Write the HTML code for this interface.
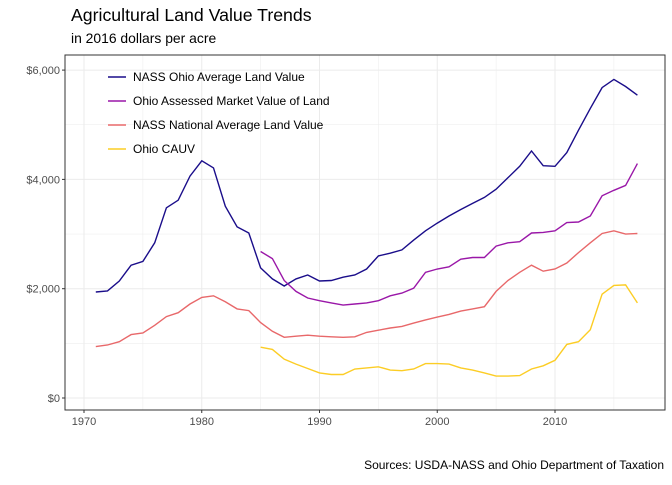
<!DOCTYPE html>
<html><head><meta charset="utf-8"><style>
body{margin:0;background:#fff;font-family:"Liberation Sans",sans-serif;}
</style></head><body>
<svg width="672" height="480" font-family="Liberation Sans, sans-serif">
<text x="71" y="21" font-size="17.7" fill="#000">Agricultural Land Value Trends</text>
<text x="71" y="43" font-size="13.9" fill="#000">in 2016 dollars per acre</text>
<g id="grid"></g>
<g id="axes"></g>
<g id="series"></g>
<rect x="65" y="55" width="600" height="355" fill="none" stroke="#333" stroke-width="1"/>
<g id="legend"></g>
<text x="664" y="469" font-size="12" text-anchor="end" fill="#000">Sources: USDA-NASS and Ohio Department of Taxation</text>
</svg>
<script>
const yearsFull=[];for(let y=1971;y<=2017;y++)yearsFull.push(y);
const yearsLate=[];for(let y=1985;y<=2017;y++)yearsLate.push(y);
const ohioAvg=[1940,1960,2140,2430,2500,2840,3480,3620,4060,4340,4210,3510,3130,3020,2380,2180,2050,2180,2250,2140,2150,2210,2250,2360,2600,2650,2710,2890,3060,3200,3330,3450,3560,3670,3820,4030,4240,4520,4250,4240,4490,4900,5300,5680,5830,5700,5540];
const ohioAssessed=[2680,2550,2150,1950,1830,1780,1740,1700,1720,1740,1780,1870,1920,2010,2300,2360,2400,2540,2570,2570,2780,2840,2860,3020,3030,3060,3210,3220,3330,3700,3800,3890,4290];
const national=[940,970,1030,1160,1190,1330,1490,1560,1720,1840,1870,1760,1630,1600,1380,1220,1110,1130,1150,1130,1120,1110,1120,1200,1240,1280,1310,1370,1430,1480,1530,1590,1630,1670,1950,2150,2300,2430,2320,2360,2470,2660,2840,3010,3060,3000,3010];
const cauv=[930,890,710,620,540,460,430,430,530,550,570,510,500,530,630,630,620,550,510,460,400,400,410,530,590,690,980,1030,1250,1900,2060,2070,1740];
const xTicks=[1970,1980,1990,2000,2010];
const yTicks=[0,2000,4000,6000];
const yTickLabels=["$0","$2,000","$4,000","$6,000"];
const seriesNames=["NASS Ohio Average Land Value","Ohio Assessed Market Value of Land","NASS National Average Land Value","Ohio CAUV"];
const colorsAdj=["#1a0d8a","#9a17a8","#e8686a","#fccd25"];
const X=y=>84+(y-1970)*11.775;
const Y=v=>398-v*0.05465;
const NS="http://www.w3.org/2000/svg";
function mk(t,a,p){const e=document.createElementNS(NS,t);for(const k in a)e.setAttribute(k,a[k]);p.appendChild(e);return e;}
const grid=document.getElementById('grid'),axes=document.getElementById('axes'),ser=document.getElementById('series'),leg=document.getElementById('legend');
for(let v=-1000;v<=7000;v+=1000){const y=Y(v);if(y<55||y>410)continue;
const l=mk('line',{x1:65,x2:665,y1:y,y2:y,stroke:'#ebebeb','stroke-width':v%2000===0?1:0.5},grid);

}
for(let yr=1965;yr<=2020;yr+=5){const x=X(yr);if(x<65||x>665)continue;
const l=mk('line',{x1:x,x2:x,y1:55,y2:410,stroke:'#ebebeb','stroke-width':yr%10===0?1:0.5},grid);

}
yTicks.forEach((v,i)=>{const y=Y(v);
mk('line',{x1:62,x2:65,y1:y,y2:y,stroke:'#333'},axes);
const t=mk('text',{x:60,y:y+4,'font-size':11,'text-anchor':'end',fill:'#4d4d4d'},axes);t.textContent=yTickLabels[i];

});
xTicks.forEach(yr=>{const x=X(yr);
mk('line',{x1:x,x2:x,y1:410,y2:413,stroke:'#333'},axes);
const t=mk('text',{x:x,y:425,'font-size':11,'text-anchor':'middle',fill:'#4d4d4d'},axes);t.textContent=yr;

});
const all=[[yearsFull,ohioAvg],[yearsLate,ohioAssessed],[yearsFull,national],[yearsLate,cauv]];
const names=['ohio-average-line','ohio-assessed-line','national-average-line','ohio-cauv-line'];
all.forEach(([xs,vs],i)=>{const d=vs.map((v,j)=>(j?'L':'M')+X(xs[j]).toFixed(1)+','+Y(v).toFixed(1)).join('');
const p=mk('path',{d:d,fill:'none',stroke:colorsAdj[i],'stroke-width':1.4},ser);


const ly=77+i*24;
mk('line',{x1:108,x2:126,y1:ly,y2:ly,stroke:colorsAdj[i],'stroke-width':1.4},leg);
const t=mk('text',{x:133,y:ly+4,'font-size':12,fill:'#000'},leg);t.textContent=seriesNames[i];

});
</script>
</body></html>
